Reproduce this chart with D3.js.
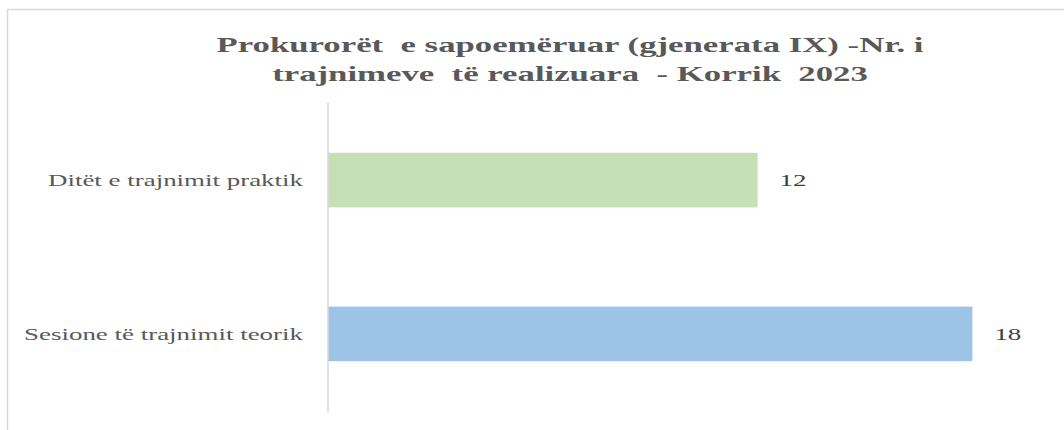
<!DOCTYPE html>
<html>
<head>
<meta charset="utf-8">
<script src="https://cdn.jsdelivr.net/npm/d3@7"></script>
<style>
  body { margin: 0; background: #fff; }
  svg text { font-family: "Liberation Serif", "DejaVu Serif", serif; white-space: pre; }
</style>
</head>
<body>
<div id="chart"></div>
<script>
var categories = ["Ditët e trajnimit praktik", "Sesione të trajnimit teorik"];
var values = [12, 18];
var barColors = ["#c5e0b4", "#9dc3e6"];
var titleLines = [
  "Prokurorët  e sapoemëruar (gjenerata IX) -Nr. i",
  "trajnimeve  të realizuara  - Korrik  2023"
];

// *****************************************************************************
// sizes
// *****************************************************************************
var width = 1064, height = 430;
var titleStretch = 1.58; // text in the picture is wider than normal
var labelStretch = 1.585;

var svg = d3
  .select("#chart")
  .append("svg")
  .attr("width", width)
  .attr("height", height);

// frame (only top and left edges visible)
svg.append("line")
  .attr("x1", 7).attr("x2", width).attr("y1", 9.5).attr("y2", 9.5)
  .attr("stroke", "#d9d9d9").attr("stroke-width", 1.5);
svg.append("line")
  .attr("x1", 7.5).attr("x2", 7.5).attr("y1", 9).attr("y2", height)
  .attr("stroke", "#d9d9d9").attr("stroke-width", 1.5);

// *****************************************************************************
// scales
// *****************************************************************************
var x = d3.scaleLinear().domain([0, 20]).range([328, 1044]);
var y = d3.scaleBand()
  .domain(categories)
  .range([102, 412])
  .paddingInner(0.645)
  .paddingOuter(0.33);

function stretchedText(sel, tx, ty, s) {
  return sel
    .attr("font-family", "'Liberation Serif', 'DejaVu Serif', serif")
    .attr("transform", "translate(" + tx + "," + ty + ") scale(" + s + ",1)");
}

// *****************************************************************************
// title
// *****************************************************************************
titleLines.forEach(function (line, i) {
  stretchedText(svg.append("text"), 570, 52 + i * 29, titleStretch)
    .attr("text-anchor", "middle")
    .attr("font-size", 22)
    .attr("font-weight", "bold")
    .attr("fill", "#595959")
    .text(line);
});

// *****************************************************************************
// bars
// *****************************************************************************
svg.selectAll(".bar")
  .data(values)
  .enter()
  .append("rect")
  .attr("class", "bar")
  .attr("x", x(0))
  .attr("y", function (d, i) { return y(categories[i]); })
  .attr("width", function (d) { return x(d) - x(0); })
  .attr("height", y.bandwidth())
  .attr("fill", function (d, i) { return barColors[i]; });

// axis line
var axis = svg.append("g")
  .attr("transform", "translate(" + (x(0) - 0.5) + ",0)")
  .call(d3.axisLeft(y).tickSize(0).tickPadding(24).tickFormat(""));
axis.select(".domain").attr("stroke", "#d9d9d9").attr("stroke-width", 1.5);

// category labels
categories.forEach(function (c) {
  stretchedText(svg.append("text"), 303, y(c) + y.bandwidth() / 2 + 6, labelStretch)
    .attr("text-anchor", "end")
    .attr("font-size", 17)
    .attr("fill", "#595959")
    .text(c);
});

// value labels
values.forEach(function (v, i) {
  stretchedText(svg.append("text"), x(v) + 22, y(categories[i]) + y.bandwidth() / 2 + 6, labelStretch)
    .attr("text-anchor", "start")
    .attr("font-size", 17)
    .attr("fill", "#404040")
    .text(v);
});
</script>
</body>
</html>
